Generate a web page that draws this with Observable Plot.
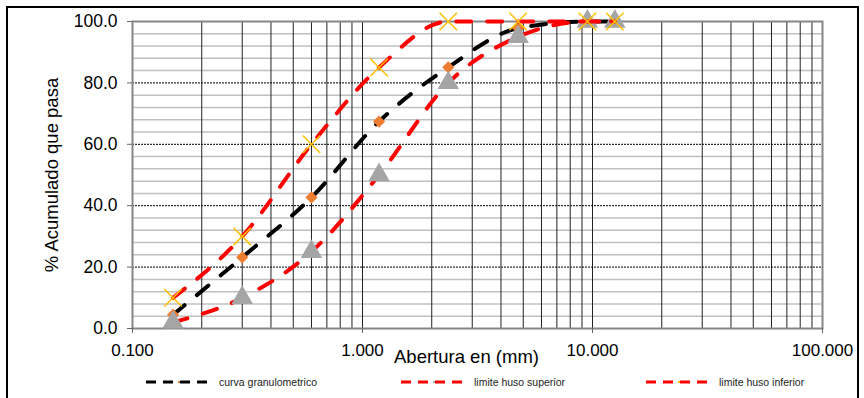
<!DOCTYPE html>
<html><head><meta charset="utf-8">
<script src="https://cdn.jsdelivr.net/npm/d3@7"></script>
<script src="https://cdn.jsdelivr.net/npm/@observablehq/plot@0.6"></script>
<style>
html,body{margin:0;padding:0;background:#fff;overflow:hidden;}
#wrap{position:relative;width:864px;height:398px;overflow:hidden;}
#border{position:absolute;left:6px;top:6px;width:853px;height:430px;border:2px solid #000;box-sizing:border-box;pointer-events:none}
#legend{position:absolute;top:374px;left:0;width:864px;height:16px;font-family:"Liberation Sans",Arial,sans-serif;font-size:10.5px;color:#222}
.item{position:absolute;top:0;height:16px;display:flex;align-items:center;white-space:nowrap}
.item svg{margin-right:11px}
</style></head><body>
<div id="wrap"><div id="chart"></div><div id="legend"></div><div id="border"></div></div>
<script>
// ---- data ----
const sieveSizes = [0.15, 0.3, 0.6, 1.18, 2.36, 4.75, 9.5, 12.5];
const curvaGranulometrica = [4.5, 23.2, 42.7, 67.4, 85.1, 97.8, 100, 100];
const limiteSuperior = [2, 10, 25, 50, 80, 95, 100, 100];
const limiteInferior = [10, 30, 60, 85, 100, 100, 100, 100];
const seriesNames = ["curva granulometrico", "limite huso superior", "limite huso inferior"];
const xTicks = [0.1, 1, 10, 100];
const xGrid = [0.2, 0.3, 0.4, 0.5, 0.6, 0.7, 0.8, 0.9, 1, 2, 3, 4, 5, 6, 7, 8, 9, 10, 20, 30, 40, 50, 60, 70, 80, 90];
const yTicks = [0, 20, 40, 60, 80, 100];
const yMajorGrid = [20, 40, 60, 80];
const yMinorGrid = [4, 8, 12, 16, 24, 28, 32, 36, 44, 48, 52, 56, 64, 68, 72, 76, 84, 88, 92, 96];

const toRows = (vals) => sieveSizes.map((s, i) => ({x: s, y: vals[i]}));
const curvaRows = toRows(curvaGranulometrica);
const superiorRows = toRows(limiteSuperior);
const inferiorRows = toRows(limiteInferior);

const lineStyle = {x: "x", y: "y", strokeWidth: 4, strokeDasharray: "15,16", strokeLinecap: "round", curve: "monotone-x"};

const chart = Plot.plot({
  width: 864, height: 398,
  marginLeft: 132, marginRight: 42, marginTop: 21, marginBottom: 70,
  x: {type: "log", domain: [0.1, 100]},
  y: {domain: [0, 100]},
  style: {fontFamily: "'Liberation Sans', Arial, sans-serif", background: "#fff", color: "#000", overflow: "visible"},
  marks: [
    Plot.ruleY(yMinorGrid, {stroke: "#c0c0c0", strokeWidth: 1.5}),
    Plot.ruleX(xGrid, {stroke: "#222", strokeWidth: 1}),
    Plot.ruleY(yMajorGrid, {stroke: "#000", strokeWidth: 1, strokeDasharray: "2,1"}),
    Plot.frame({stroke: "#868686", strokeWidth: 2}),
    Plot.axisX({ticks: xTicks, tickFormat: d3.format(".3f"), tickSize: 5, tickPadding: 10, fontSize: 17, label: null, stroke: "#666"}),
    Plot.axisY({ticks: yTicks, tickFormat: d3.format(".1f"), tickSize: 5, tickPadding: 10, fontSize: 17.5, label: null, stroke: "#666"}),
    Plot.text(["% Acumulado que pasa"], {frameAnchor: "left", textAnchor: "middle", rotate: -90, dx: -80, fontSize: 18.5}),
    Plot.text(["Abertura en (mm)"], {frameAnchor: "bottom", textAnchor: "middle", dx: -11, dy: 34, fontSize: 18.5}),
    Plot.line(curvaRows, {...lineStyle, stroke: "#000"}),
    Plot.dot(curvaRows, {x: "x", y: "y", symbol: "diamond2", fill: "#ED7D31", r: 5.5}),
    Plot.line(superiorRows, {...lineStyle, stroke: "#ff0000"}),
    Plot.dot(superiorRows, {x: "x", y: "y", symbol: "triangle", fill: "#A5A5A5", r: 8}),
    Plot.line(inferiorRows, {...lineStyle, stroke: "#ff0000"}),
    Plot.dot(inferiorRows, {x: "x", y: "y", symbol: "times", stroke: "#FFC000", strokeWidth: 1.5, r: 8})
  ]
});
document.getElementById("chart").append(chart);

// ---- legend ----
const legendItems = [
  {name: seriesNames[0], color: "#000", marker: "#ED7D31", left: 145},
  {name: seriesNames[1], color: "#ff0000", marker: "#A5A5A5", left: 400},
  {name: seriesNames[2], color: "#ff0000", marker: "#FFC000", left: 645}
];
const legend = d3.select("#legend");
legendItems.forEach(it => {
  const div = legend.append("div").attr("class", "item").style("left", it.left + "px");
  const svg = div.append("svg").attr("width", 63).attr("height", 10);
  svg.append("line").attr("x1", 1).attr("x2", 62).attr("y1", 5).attr("y2", 5)
    .attr("stroke", it.color).attr("stroke-width", 3).attr("stroke-dasharray", "10,7");
  svg.append("rect").attr("x", 33).attr("y", 4).attr("width", 2).attr("height", 2).attr("fill", it.marker);
  div.append("span").text(it.name);
});
</script>
</body></html>
